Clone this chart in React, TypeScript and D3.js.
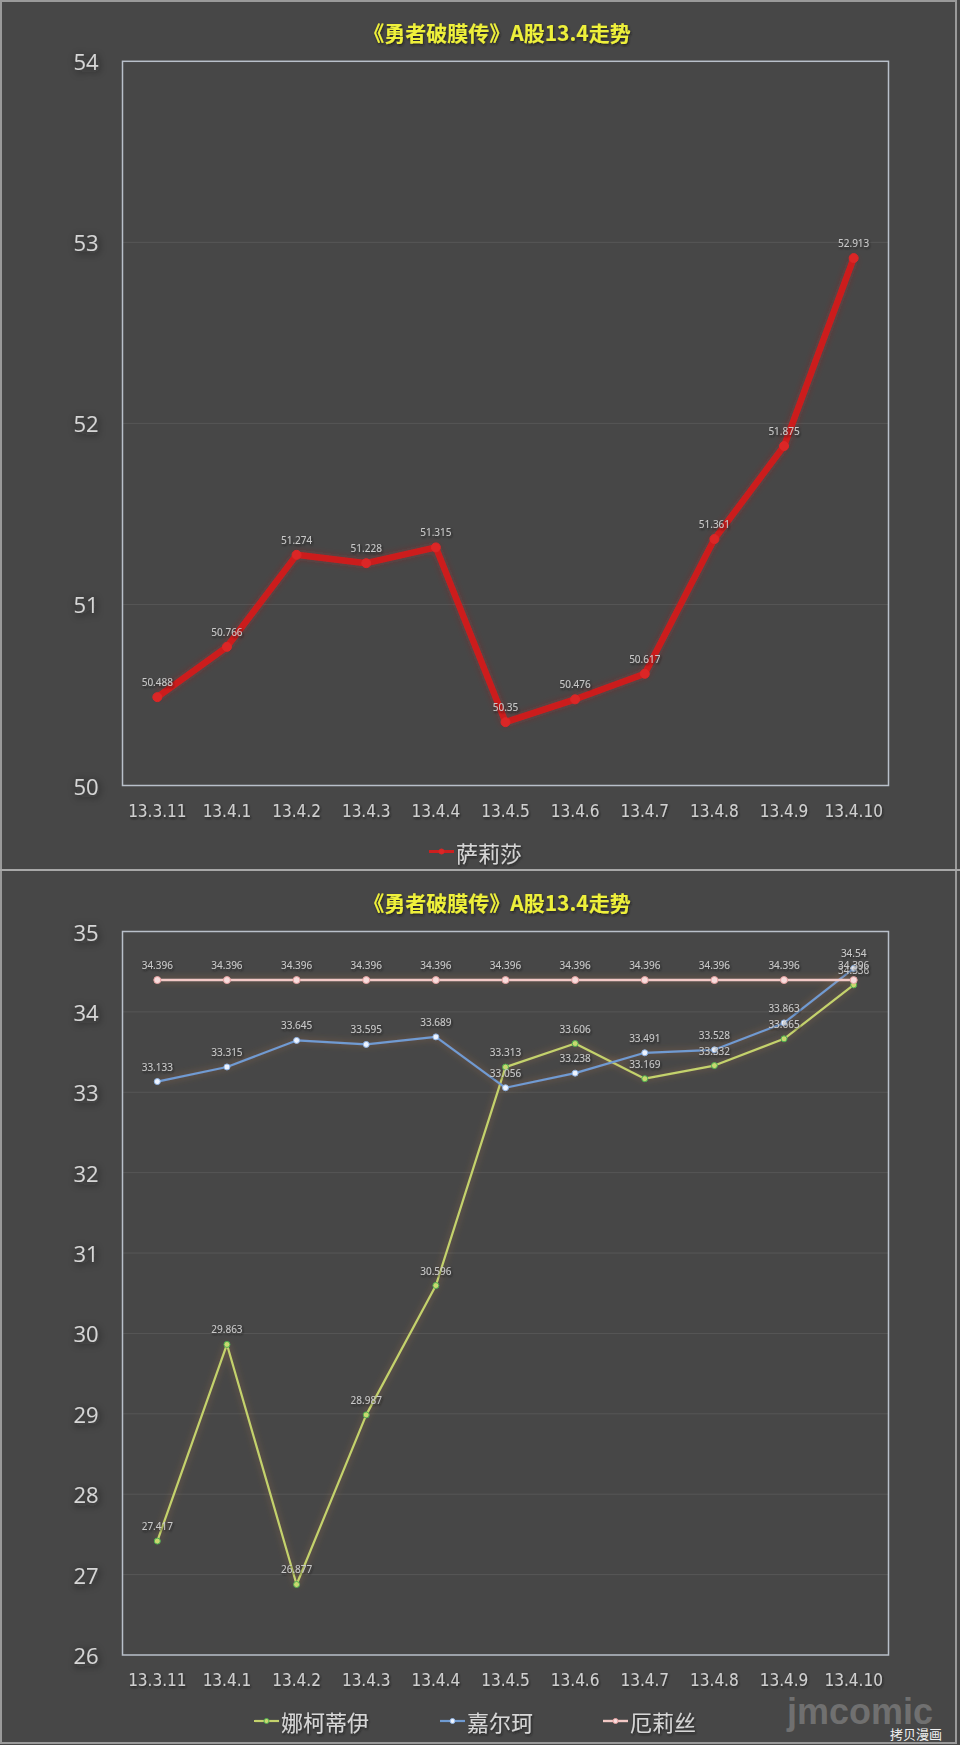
import React from 'react';
import * as d3 from 'd3';

const categories = ['13.3.11', '13.4.1', '13.4.2', '13.4.3', '13.4.4', '13.4.5', '13.4.6', '13.4.7', '13.4.8', '13.4.9', '13.4.10'];
const titleText = '《勇者破膜传》A股13.4走势';

// top chart
const salishaName = '萨莉莎';
const salishaValues = [50.488, 50.766, 51.274, 51.228, 51.315, 50.35, 50.476, 50.617, 51.361, 51.875, 52.913];
const topTicks = [50, 51, 52, 53, 54];

// bottom chart
const nakeName = '娜柯蒂伊';
const nakeValues = [27.417, 29.863, 26.877, 28.987, 30.596, 33.313, 33.606, 33.169, 33.332, 33.665, 34.336];
const jiaerName = '嘉尔珂';
const jiaerValues = [33.133, 33.315, 33.645, 33.595, 33.689, 33.056, 33.238, 33.491, 33.528, 33.863, 34.54];
const elisiName = '厄莉丝';
const elisiValues = [34.396, 34.396, 34.396, 34.396, 34.396, 34.396, 34.396, 34.396, 34.396, 34.396, 34.396];
const bottomTicks = [26, 27, 28, 29, 30, 31, 32, 33, 34, 35];

const W = 960, H = 1745;
const BG = '#474747';
const LABEL = '#d6d6d6';
const cjk = '"Noto Sans CJK SC", "Noto Sans", sans-serif';
const narrow = '"Liberation Sans Narrow", "DejaVu Sans Condensed", "Liberation Sans", sans-serif';

interface SeriesDef {
  name: string;
  values: number[];
  color: string;
  width: number;
  marker: string;
  markerStroke: string;
  r: number;
  glow: string;
}

function Panel({ top, yDomain, yRange, ticks, series, legendX }: {
  top: number;
  yDomain: [number, number];
  yRange: [number, number];
  ticks: number[];
  series: SeriesDef[];
  legendX: number[];
}) {
  const x = d3.scaleBand<string>().domain(categories).range([122.5, 888.5]);
  const cx = (c: string) => (x(c) ?? 0) + x.bandwidth() / 2;
  const y = d3.scaleLinear().domain(yDomain).range(yRange);
  const line = d3.line<number>().x((_, i) => cx(categories[i])).y(d => y(d));
  const [y0, y1] = yRange;
  const legendY = y0 + 66;
  return (
    <g>
      <text x={497} y={top + 32} textAnchor="middle" dominantBaseline="central" fill="#eef03a"
        fontFamily={cjk} fontWeight={700} fontSize={21} filter="url(#textShadow)">{titleText}</text>
      {ticks.map(t => (
        <g key={t}>
          {t !== yDomain[0] && t !== yDomain[1] && (
            <line x1={122.5} x2={888.5} y1={y(t)} y2={y(t)} stroke="#575757" strokeWidth={1} />
          )}
          <text x={86} y={y(t)} textAnchor="middle" dominantBaseline="central" fill={LABEL}
            fontFamily='"Open Sans", "Noto Sans", sans-serif' fontSize={22} filter="url(#tickShadow)">{t}</text>
        </g>
      ))}
      <rect x={122.5} y={y1} width={766} height={y0 - y1} fill="none" stroke="#b9c0ca" strokeWidth={1.5} />
      {categories.map(c => (
        <text key={c} x={cx(c)} y={y0 + 25} textAnchor="middle" dominantBaseline="central" fill="#cfcfcf"
          fontFamily={narrow} fontSize={17} filter="url(#textShadow)">{c}</text>
      ))}
      {series.map(s => (
        <g key={s.name}>
          <path d={line(s.values) ?? ''} fill="none" stroke={s.color} strokeWidth={s.width}
            strokeLinejoin="round" filter={`url(#${s.glow})`} />
          {s.values.map((v, i) => (
            <circle key={i} cx={cx(categories[i])} cy={y(v)} r={s.r} fill={s.marker}
              stroke={s.markerStroke} strokeWidth={1} />
          ))}
        </g>
      ))}
      {series.map(s => s.values.map((v, i) => (
        <text key={s.name + i} x={cx(categories[i])} y={y(v) - 15} textAnchor="middle" dominantBaseline="central"
          fill="#c9c9c9" fontFamily='"Noto Sans", sans-serif' fontSize={10} filter="url(#textShadow)">{v}</text>
      )))}
      {series.map((s, k) => (
        <g key={s.name} transform={`translate(${legendX[k]},${legendY})`}>
          <line x1={0} x2={25} y1={0} y2={0} stroke={s.color} strokeWidth={Math.min(s.width, 3)} />
          <circle cx={12.5} cy={0} r={2.5} fill={s.marker} stroke={s.markerStroke} strokeWidth={1} />
          <text x={27} y={0} dominantBaseline="central" fill={LABEL} fontFamily={cjk} fontSize={22}
            filter="url(#textShadow)">{s.name}</text>
        </g>
      ))}
    </g>
  );
}

export default function App() {
  const topSeries: SeriesDef[] = [
    { name: salishaName, values: salishaValues, color: '#cc1f1f', width: 6.5, marker: '#dc2626', markerStroke: '#dc2626', r: 4.5, glow: 'redGlow' },
  ];
  const bottomSeries: SeriesDef[] = [
    { name: nakeName, values: nakeValues, color: '#c4d26c', width: 2.2, marker: '#c8d870', markerStroke: '#4caf50', r: 3, glow: 'warmGlow' },
    { name: jiaerName, values: jiaerValues, color: '#6f9bd2', width: 2.2, marker: '#eef4ff', markerStroke: '#8fb4e6', r: 3, glow: 'warmGlow' },
    { name: elisiName, values: elisiValues, color: '#f3c9c6', width: 2.4, marker: '#f7dcdc', markerStroke: '#e8a0a0', r: 3.5, glow: 'warmGlow' },
  ];
  return (
    <svg width={W} height={H} viewBox={`0 0 ${W} ${H}`} style={{ position: 'absolute', left: 0, top: 0, display: 'block' }}>
      <defs>
        <filter id="tickShadow" x="-60%" y="-60%" width="220%" height="220%">
          <feDropShadow dx={1} dy={2} stdDeviation={4} floodColor="#1c1c1c" floodOpacity={0.9} />
        </filter>
        <filter id="textShadow" x="-20%" y="-40%" width="140%" height="180%">
          <feDropShadow dx={1} dy={1.5} stdDeviation={1.2} floodColor="#151515" floodOpacity={0.8} />
        </filter>
        <filter id="redGlow" filterUnits="userSpaceOnUse" x={0} y={0} width={W} height={H}>
          <feGaussianBlur in="SourceAlpha" stdDeviation={3.5} result="b" />
          <feFlood floodColor="#c02424" floodOpacity={0.4} />
          <feComposite in2="b" operator="in" result="g" />
          <feMerge><feMergeNode in="g" /><feMergeNode in="SourceGraphic" /></feMerge>
        </filter>
        <filter id="warmGlow" filterUnits="userSpaceOnUse" x={0} y={0} width={W} height={H}>
          <feGaussianBlur in="SourceAlpha" stdDeviation={3.5} result="b" />
          <feFlood floodColor="#d88a4a" floodOpacity={0.45} />
          <feComposite in2="b" operator="in" result="g" />
          <feMerge><feMergeNode in="g" /><feMergeNode in="SourceGraphic" /></feMerge>
        </filter>
      </defs>
      <rect x={0} y={0} width={W} height={H} fill={BG} />
      <rect x={1} y={1} width={W - 5} height={H - 3} fill="none" stroke="#9a9a9a" strokeWidth={2} />
      <line x1={0} x2={W} y1={870} y2={870} stroke="#a8a8a8" strokeWidth={2} />
      <Panel top={0} yDomain={[50, 54]} yRange={[785.5, 61.3]} ticks={topTicks} series={topSeries} legendX={[429]} />
      <Panel top={870} yDomain={[26, 35]} yRange={[1655, 931.5]} ticks={bottomTicks} series={bottomSeries} legendX={[254, 440, 603]} />
      <text x={860} y={1724} textAnchor="middle" fill="#9a9a9a" fillOpacity={0.5} fontFamily='"Liberation Sans", sans-serif'
        fontWeight={700} fontSize={36}>jmcomic</text>
      <text x={916} y={1739} textAnchor="middle" fill="#f0f0f0" fontFamily={cjk} fontSize={13}>拷贝漫画</text>
    </svg>
  );
}
